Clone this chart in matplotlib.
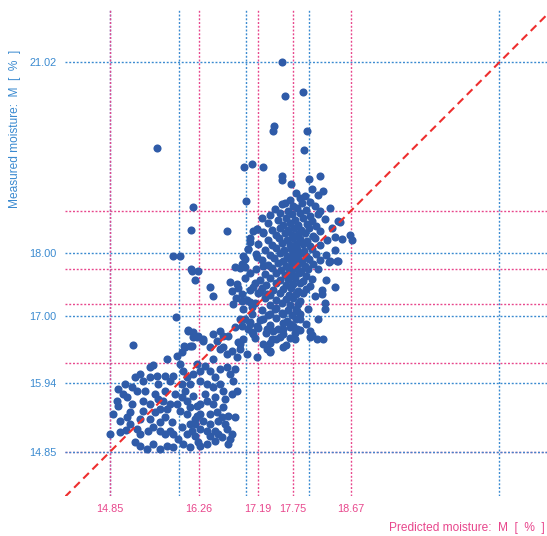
import matplotlib.pyplot as plt

# tick positions used on each axis (and as the reference grid)
pred_ticks = [14.85, 16.26, 17.19, 17.75, 18.67]
meas_ticks = [14.85, 15.94, 17.00, 18.00, 21.02]

# isolated samples far from the main clouds
outlier_pred = [17.58, 17.62, 17.91, 17.45, 17.43, 17.97, 17.92, 15.59, 16.97, 17.10,
                17.27, 17.58, 17.58, 17.72, 18.00, 18.18, 16.17, 16.13, 15.85, 15.96,
                16.13, 16.24, 16.20, 15.90, 16.09, 16.02, 16.15, 16.17, 16.70, 15.21,
                17.01, 18.50, 18.42, 18.69]
outlier_meas = [21.02, 20.48, 20.55, 20.02, 19.94, 19.93, 19.63, 19.66, 19.37, 19.41,
                19.37, 19.22, 19.15, 19.09, 19.17, 19.22, 18.73, 18.36, 17.95, 17.95,
                17.75, 17.71, 17.57, 16.99, 16.78, 16.53, 16.53, 16.67, 18.35, 16.54,
                18.82, 18.49, 18.25, 18.20]

# high-moisture batch
upper_pred = [
    18.05, 18.23,
    17.80, 17.94, 18.15,
    17.70, 17.86, 18.02, 17.62,
    17.58, 17.75, 17.89, 18.10,
    17.47, 17.67, 17.81, 17.96, 18.18, 18.34,
    17.39, 17.54, 17.73, 17.86, 18.02, 18.15,
    17.26, 17.51, 17.64, 17.78, 17.91, 18.05, 18.26, 18.46,
    17.35, 17.59, 17.70, 17.83, 17.97, 18.12,
    17.18, 17.42, 17.54, 17.67, 17.77, 17.88, 18.00, 18.18, 18.37,
    17.27, 17.48, 17.62, 17.73, 17.83, 17.94, 18.07, 18.65,
    17.07, 17.35, 17.53, 17.66, 17.75, 17.86, 17.97, 18.10, 18.29, 18.53,
    17.20, 17.42, 17.58, 17.70, 17.80, 17.91, 18.02, 18.18,
    17.04, 17.31, 17.48, 17.61, 17.72, 17.81, 17.92, 18.05, 18.42,
    17.16, 17.39, 17.54, 17.66, 17.75, 17.85, 17.96, 18.12, 18.27,
    16.99, 17.26, 17.45, 17.59, 17.70, 17.80, 17.89, 18.00, 18.18, 18.45,
    16.94, 17.35, 17.51, 17.64, 17.73, 17.83, 17.94, 18.07, 18.32,
    16.91, 17.16, 17.42, 17.56, 17.69, 17.78, 17.88, 17.99, 18.15,
    17.07, 17.31, 17.48, 17.62, 17.73, 17.85, 17.96,
    16.99, 17.23, 17.39, 17.54, 17.67, 17.78, 17.91, 18.05, 18.27,
    17.15, 17.32, 17.48, 17.64, 17.75, 17.86, 18.02,
    16.88, 17.07, 17.26, 17.43, 17.59, 17.72, 17.83, 17.96, 18.21,
    17.20, 17.39, 17.54, 17.69, 17.80, 17.91, 18.10,
    16.85, 17.02, 17.31, 17.48, 17.64, 17.75, 17.86,
    17.15, 17.39, 17.58, 17.70, 17.83, 18.26,
    16.96, 17.26, 17.48, 17.67, 17.80, 17.99,
    17.10, 17.35, 17.58, 17.73, 17.86,
    16.91, 17.23, 17.48, 17.66, 17.80, 18.15,
    17.07, 17.39, 17.59, 17.75, 17.96,
    17.20, 17.51, 17.70, 17.86,
    17.32, 17.59, 17.78, 18.05,
    17.15, 17.48, 17.70,
    17.39, 17.64,
]
upper_meas = [
    19.01, 18.98,
    18.95, 18.90, 18.92,
    18.84, 18.87, 18.81, 18.80,
    18.78, 18.75, 18.79, 18.74,
    18.70, 18.67, 18.71, 18.68, 18.66, 18.72,
    18.60, 18.63, 18.61, 18.64, 18.59, 18.62,
    18.55, 18.52, 18.56, 18.53, 18.55, 18.51, 18.54, 18.50,
    18.47, 18.45, 18.48, 18.44, 18.46, 18.43,
    18.38, 18.37, 18.40, 18.36, 18.39, 18.37, 18.40, 18.35, 18.39,
    18.31, 18.29, 18.32, 18.28, 18.30, 18.31, 18.27, 18.28,
    18.23, 18.21, 18.24, 18.20, 18.23, 18.22, 18.19, 18.24, 18.21, 18.22,
    18.15, 18.13, 18.16, 18.12, 18.14, 18.15, 18.11, 18.13,
    18.07, 18.05, 18.08, 18.04, 18.06, 18.07, 18.03, 18.06, 18.05,
    17.99, 17.97, 18.00, 17.96, 17.98, 17.99, 17.95, 17.98, 17.97,
    17.91, 17.89, 17.92, 17.88, 17.90, 17.91, 17.87, 17.90, 17.89, 17.88,
    17.83, 17.81, 17.84, 17.80, 17.82, 17.83, 17.79, 17.82, 17.86,
    17.76, 17.74, 17.77, 17.73, 17.75, 17.76, 17.72, 17.75, 17.74,
    17.68, 17.66, 17.69, 17.65, 17.67, 17.68, 17.64,
    17.60, 17.58, 17.61, 17.57, 17.59, 17.60, 17.56, 17.59, 17.58,
    17.52, 17.50, 17.53, 17.49, 17.51, 17.52, 17.48,
    17.44, 17.42, 17.45, 17.41, 17.43, 17.44, 17.40, 17.43, 17.42,
    17.36, 17.34, 17.37, 17.33, 17.35, 17.36, 17.32,
    17.28, 17.26, 17.29, 17.25, 17.27, 17.28, 17.24,
    17.20, 17.18, 17.21, 17.17, 17.19, 17.20,
    17.12, 17.10, 17.13, 17.09, 17.11, 17.12,
    17.04, 17.02, 17.05, 17.01, 17.03,
    16.96, 16.94, 16.97, 16.93, 16.95, 16.96,
    16.88, 16.86, 16.89, 16.85, 16.87,
    16.81, 16.79, 16.82, 16.78,
    16.73, 16.71, 16.74, 16.70,
    16.65, 16.63, 16.66,
    16.57, 16.55,
]

# samples between the two batches
bridge_pred = [16.15, 16.44, 16.48, 16.75, 16.86, 16.78, 16.94, 17.07, 17.10, 16.09,
               16.17, 16.24, 16.32, 16.48, 16.59, 16.64, 16.72, 16.83, 16.94, 16.99,
               17.07, 17.10, 16.88, 16.91, 16.78, 16.59, 16.44, 17.02, 17.18, 17.34,
               17.39, 17.27, 16.99, 16.83, 17.12, 17.23, 17.34, 16.94, 16.80, 17.47,
               17.59, 17.39, 17.27, 17.18, 17.34, 17.43, 17.59, 17.54, 17.42, 17.27,
               17.12, 17.04, 16.96, 17.78, 18.02, 18.13, 18.23, 18.02, 18.26, 18.21,
               18.42, 18.34, 18.46, 17.70, 17.81, 17.86, 17.81, 17.39, 17.59, 17.18,
               17.12, 17.27, 17.07, 17.04, 16.96, 17.18]
bridge_meas = [17.71, 17.46, 17.32, 17.54, 17.51, 17.40, 17.35, 17.22, 17.14, 16.76,
               16.75, 16.69, 16.64, 16.72, 16.76, 16.69, 16.69, 16.83, 16.84, 16.95,
               16.91, 16.75, 16.59, 16.48, 16.45, 16.48, 16.51, 16.40, 16.35, 16.48,
               16.43, 17.79, 17.78, 17.78, 17.46, 17.38, 17.35, 17.24, 17.19, 17.11,
               17.03, 17.03, 16.95, 16.84, 16.80, 16.77, 16.80, 16.67, 16.64, 16.56,
               16.72, 16.80, 16.64, 16.64, 16.67, 16.64, 16.64, 16.77, 17.11, 17.35,
               17.46, 17.87, 17.87, 16.87, 16.80, 16.95, 17.08, 16.45, 16.51, 18.38,
               18.35, 18.33, 18.17, 18.06, 17.95, 17.94]

# low-moisture batch
lower_pred = [15.48, 15.53, 15.75, 15.91, 15.96, 16.04, 15.99, 16.12, 16.23, 16.32,
              16.55, 16.64, 16.70, 16.86, 16.91, 15.25, 15.33, 15.37, 15.09, 15.06,
              15.20, 15.28, 15.48, 15.59, 15.61, 15.72, 15.80, 15.85, 16.01, 16.07,
              15.99, 16.12, 16.23, 16.28, 16.36, 16.44, 16.51, 16.17, 16.28, 16.39,
              16.48, 16.59, 16.70, 16.75, 16.80, 16.86, 16.78, 16.64, 14.96, 14.98,
              14.90, 15.01, 15.12, 15.20, 15.17, 15.12, 15.37, 15.37, 15.48, 15.56,
              15.61, 15.69, 15.75, 15.72, 15.83, 15.64, 15.91, 15.99, 16.07, 15.96,
              16.07, 16.17, 16.23, 16.28, 16.20, 16.32, 16.39, 16.48, 16.55, 16.44,
              16.56, 16.64, 16.63, 16.72, 16.67, 16.83, 15.01, 15.10, 14.85, 15.28,
              15.33, 15.45, 15.53, 15.64, 15.72, 15.80, 15.85, 15.99, 16.07, 16.15,
              16.20, 16.28, 16.39, 16.44, 16.51, 16.56, 16.70, 16.78, 15.25, 15.33,
              15.44, 15.53, 15.64, 15.75, 15.85, 16.01, 16.12, 16.24, 16.39, 16.51,
              16.63, 16.75, 16.20, 16.23, 16.04, 16.12, 16.36, 16.51, 16.28, 16.44,
              16.12, 15.88, 15.80, 15.64, 15.48, 15.33, 15.93, 16.28, 15.72, 15.56,
              15.40, 14.98, 15.17, 16.67, 16.59, 16.48, 16.83, 16.72]
lower_meas = [16.19, 16.23, 16.32, 16.37, 16.24, 16.51, 16.43, 16.53, 16.67, 16.60,
              16.60, 16.51, 16.40, 16.35, 16.56, 16.04, 16.08, 15.97, 15.93, 15.77,
              15.88, 15.82, 16.04, 16.05, 15.93, 16.05, 15.97, 16.05, 16.13, 16.04,
              15.93, 15.93, 16.24, 16.13, 16.21, 16.13, 16.04, 16.08, 15.97, 15.93,
              15.88, 15.93, 16.19, 16.08, 15.97, 15.82, 15.77, 15.82, 15.66, 15.58,
              15.45, 15.34, 15.72, 15.61, 15.48, 15.40, 15.66, 15.50, 15.61, 15.48,
              15.69, 15.66, 15.53, 15.40, 15.32, 15.32, 15.61, 15.72, 15.66, 15.50,
              15.45, 15.74, 15.58, 15.45, 15.37, 15.34, 15.66, 15.61, 15.48, 15.45,
              15.34, 15.56, 15.40, 15.42, 15.29, 15.40, 15.17, 15.20, 15.14, 15.21,
              15.14, 15.18, 15.25, 15.18, 15.14, 15.18, 15.14, 15.25, 15.14, 15.18,
              15.10, 15.21, 15.18, 15.10, 15.18, 15.14, 15.21, 15.14, 15.01, 14.95,
              14.90, 14.98, 14.90, 14.95, 14.93, 14.98, 14.93, 15.01, 14.98, 15.02,
              15.09, 15.06, 15.29, 15.42, 15.82, 15.56, 15.77, 15.72, 15.61, 15.29,
              15.29, 15.77, 15.61, 15.53, 15.37, 15.37, 15.06, 14.95, 15.82, 15.77,
              15.82, 15.85, 15.29, 15.69, 16.16, 16.32, 16.16, 14.98]

predicted = outlier_pred + upper_pred + bridge_pred + lower_pred
measured = outlier_meas + upper_meas + bridge_meas + lower_meas

PINK = '#e8468c'
BLUE = '#3a8ad0'
DOT = '#2f5ba8'
RED = '#ee2e2e'
dotted = (0, (1.4, 1.3))

plt.rcParams['font.family'] = ['Liberation Sans', 'DejaVu Sans']

fig = plt.figure(figsize=(5.47, 5.36), dpi=100)
ax = fig.add_axes([65 / 547, 40 / 536, 482 / 547, 486 / 536])
ax.set_xlim(14.137, 21.776)
ax.set_ylim(14.15, 21.85)

# reference grid: predicted values in pink, measured values in blue
for v in pred_ticks:
    ax.axhline(v, color=PINK, lw=1.0, ls=dotted, zorder=1)
for v in meas_ticks:
    ax.axvline(v, color=BLUE, lw=1.0, ls=dotted, zorder=1)
for v in meas_ticks:
    ax.axhline(v, color=BLUE, lw=1.0, ls=dotted, zorder=1.5)
for v in pred_ticks:
    ax.axvline(v, color=PINK, lw=1.0, ls=dotted, zorder=1.5)

ax.scatter(predicted, measured, s=34, color=DOT, linewidths=0, zorder=3)
ax.plot([14.137, 21.85], [14.137, 21.85], color=RED, lw=1.5,
        ls=(0, (3.8, 2.4)), zorder=4)

ax.set_xticks(pred_ticks, [f'{v:.2f}' for v in pred_ticks])
ax.set_yticks(meas_ticks, [f'{v:.2f}' for v in meas_ticks])
ax.tick_params(axis='x', length=0, pad=6, labelsize=7.8, labelcolor=PINK)
ax.tick_params(axis='y', length=0, pad=6, labelsize=7.8, labelcolor=BLUE)
for s in ax.spines.values():
    s.set_visible(False)

fig.text(545 / 547, 1 - 528 / 536, 'Predicted moisture:  M  [  %  ]',
         color=PINK, fontsize=8.6, ha='right', va='center')
fig.text(15 / 547, 1 - 50 / 536, 'Measured moisture:  M  [  %  ]',
         color=BLUE, fontsize=8.6, ha='center', va='top', rotation=90)

fig.savefig('out.png', dpi=100)
